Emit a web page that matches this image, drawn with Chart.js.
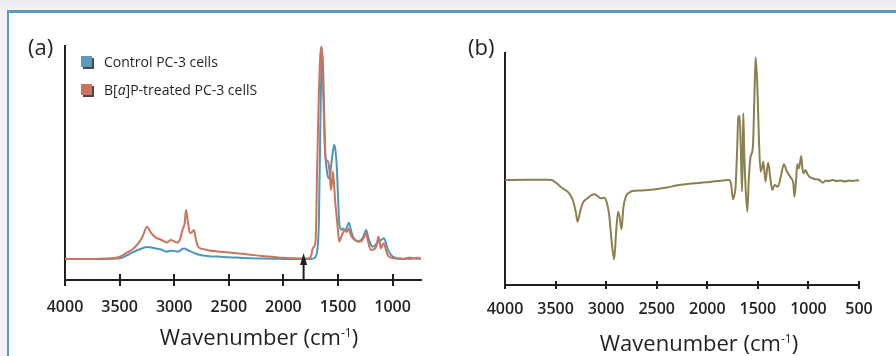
<!DOCTYPE html>
<html>
<head>
<meta charset="utf-8">
<script src="https://cdn.jsdelivr.net/npm/chart.js@4/dist/chart.umd.min.js"></script>
<style>
  html, body { margin: 0; padding: 0; }
  body { width: 896px; height: 356px; overflow: hidden; position: relative;
         background: linear-gradient(#e9eaed, #f3f3f5 10px); font-family: 'Open Sans', sans-serif; color: #231f20; }
  #frame { position: absolute; left: 7px; top: 10px; width: 1000px; height: 400px; background: #fff;
           border-top: 3px solid #5b9cbc; border-left: 2px solid #5b9cbc; }
  canvas { position: absolute; top: 0; }
  .lbl { position: absolute; font-size: 22px; line-height: 24px; font-weight: 400; }
  .leg { position: absolute; font-size: 14px; line-height: 16px; white-space: nowrap; }
  .sw { position: absolute; width: 11px; height: 11px; box-shadow: 2px 2px 0 #4a4a4a; }
  .ttl { position: absolute; width: 320px; text-align: center; font-size: 22px; line-height: 22px; font-weight: 500; white-space: nowrap; }
  .ttl sup { font-size: 12px; vertical-align: 8px; line-height: 0; }
</style>
</head>
<body>
<div id="frame"></div>
<canvas id="ca" width="440" height="340" style="left:0px"></canvas>
<canvas id="cb" width="446" height="340" style="left:450px"></canvas>

<div class="lbl" style="left:28px; top:34px">(a)</div>
<div class="lbl" style="left:468px; top:34px">(b)</div>

<div class="sw" style="left:81px; top:56px; background:#5b9cbd"></div>
<div class="leg" style="left:104px; top:54px">Control PC-3 cells</div>
<div class="sw" style="left:81px; top:84px; background:#cc735d"></div>
<div class="leg" style="left:104px; top:82px">B[<i>a</i>]P-treated PC-3 cellS</div>

<div class="ttl" style="left:99px; top:325px">Wavenumber (cm<sup>-1</sup>)</div>
<div class="ttl" style="left:539px; top:331px">Wavenumber (cm<sup>-1</sup>)</div>

<script>
// ---- Panel (a): IR spectra (arbitrary absorbance units) ----
const wnA = [4000, 3800, 3600, 3530, 3480, 3430, 3390, 3340, 3290, 3250, 3210, 3170, 3120, 3065, 3035, 3000, 2975, 2945, 2925, 2905, 2892, 2875, 2855, 2835, 2820, 2800, 2780, 2740, 2680, 2600, 2500, 2400, 2300, 2200, 2100, 2000, 1900, 1800, 1765, 1745, 1735, 1720, 1705, 1690, 1675, 1662, 1652, 1645, 1635, 1625, 1616, 1600, 1587, 1575, 1565, 1555, 1547, 1535, 1525, 1512, 1500, 1488, 1470, 1452, 1437, 1420, 1408, 1400, 1385, 1363, 1340, 1318, 1300, 1280, 1260, 1243, 1225, 1198, 1184, 1160, 1145, 1130, 1118, 1108, 1095, 1080, 1065, 1050, 1034, 1010, 990, 960, 930, 900, 870, 840, 810, 780, 760, 740];
const controlA = [9.0, 9.0, 9.1, 9.2, 9.5, 10.6, 11.6, 12.7, 13.6, 14.1, 13.9, 13.5, 13.0, 12.1, 12.5, 12.4, 12.1, 12.6, 13.3, 13.5, 13.2, 12.8, 12.3, 11.9, 11.6, 11.2, 10.9, 10.5, 10.2, 10.0, 9.7, 9.5, 9.3, 9.2, 9.1, 9.0, 9.0, 9.0, 9.0, 9.0, 9.1, 9.3, 10.0, 12.5, 25, 65, 93, 98.5, 88, 68, 54, 46, 43.5, 44, 48, 52, 55, 57.7, 56, 49, 36, 24, 21.5, 22, 21, 22.5, 24, 24.5, 22, 18.5, 17, 16.4, 16.8, 17.5, 19.5, 21.4, 18.5, 15, 14.2, 14.8, 15.8, 16.5, 16.8, 17, 17.5, 17.8, 16.5, 14, 12, 10.5, 9.8, 9.3, 9.1, 9.0, 9.2, 9.0, 9.3, 9.1, 9.2, 9.0];
const treatedA = [9.0, 9.0, 9.2, 9.5, 10.3, 11.8, 12.8, 15.0, 18.5, 22.8, 20.0, 18.2, 17.2, 16.0, 17.1, 16.5, 16.0, 17.5, 21.4, 24, 29.9, 25, 20, 20.5, 21.4, 17, 14.2, 13.3, 12.6, 12.2, 11.8, 11.3, 10.8, 10.3, 9.9, 9.5, 9.3, 9.2, 9.3, 10.5, 13, 14.2, 17, 50, 80, 96, 99.7, 96, 80, 62, 52.7, 51, 49.9, 45, 38.5, 42, 46.3, 40, 33, 27, 21, 16.4, 18.5, 20.5, 21.4, 20.5, 22, 21.5, 19.5, 17.8, 17, 16.5, 16.4, 16.8, 18.5, 20, 16.5, 12.8, 13, 13.5, 15, 18.5, 16, 13.5, 14.8, 15.7, 13.5, 11.2, 10, 9.5, 9.3, 9.1, 9.2, 9.0, 9.3, 9.6, 9.2, 9.5, 9.3, 9.2];
const xTicksA = [4000, 3500, 3000, 2500, 2000, 1500, 1000];
const arrowWn = 1815;

// ---- Panel (b): difference spectrum ----
const wnB = [4000, 3800, 3600, 3540, 3500, 3430, 3365, 3330, 3300, 3283, 3260, 3233, 3184, 3150, 3118, 3085, 3052, 3020, 2995, 2970, 2945, 2921, 2900, 2882, 2865, 2848, 2830, 2806, 2770, 2740, 2650, 2510, 2400, 2280, 2150, 2016, 1900, 1786, 1765, 1746, 1730, 1720, 1705, 1693, 1680, 1668, 1657, 1650, 1644, 1635, 1620, 1604, 1590, 1572, 1549, 1535, 1522, 1505, 1489, 1473, 1460, 1446, 1424, 1410, 1397, 1375, 1357, 1335, 1302, 1270, 1243, 1215, 1171, 1150, 1138, 1122, 1110, 1094, 1071, 1060, 1048, 1028, 1010, 989, 940, 890, 858, 830, 800, 760, 720, 680, 640, 600, 560, 520, 500];
const diffB = [0, 0.3, 0.2, 0, -2.5, -8.3, -13.3, -20, -32, -41.7, -33, -23.3, -18.3, -15.5, -14.3, -16, -18.3, -17.7, -22, -35, -62, -79.3, -50, -31.7, -38, -49.3, -28, -16.7, -12.5, -11, -10.5, -9.3, -7.5, -5, -3.5, -2.3, -1, 0, -4, -19.3, -14, -6.7, 30, 63.3, 64, 30, -11.7, 20, 66.7, 30, -10, -31.7, 0, 23.3, 33.3, 80, 122.7, 93.3, 40, 8.3, 12, 18.3, -1.7, 10, 17.3, 0, -10, -5, -6.7, 5, 15.7, 9, 1.7, -3, -16.7, 0, 16, 11.7, 24, 12, 6.7, 10, 6, 3.3, 1, 0, -2.7, -0.5, -1, 0, -1, -0.5, -1.5, -0.5, -1, -0.3, -0.7];
const xTicksB = [4000, 3500, 3000, 2500, 2000, 1500, 1000, 500];

const INK = '#231f20';
const pts = (xs, ys) => xs.map((x, i) => ({ x: x, y: ys[i] }));

function crossTicks(up) {
  return {
    id: 'crossTicks',
    afterDraw(chart) {
      const s = chart.scales.x, ctx = chart.ctx, b = chart.chartArea.bottom;
      ctx.save();
      ctx.strokeStyle = INK; ctx.lineWidth = 2;
      s.ticks.forEach(t => {
        const px = Math.round(s.getPixelForValue(t.value));
        ctx.beginPath(); ctx.moveTo(px, b - up); ctx.lineTo(px, b); ctx.stroke();
      });
      ctx.restore();
    }
  };
}

const arrowPlugin = {
  id: 'arrow',
  afterDraw(chart) {
    const s = chart.scales.x, y = chart.scales.y, ctx = chart.ctx;
    const px = s.getPixelForValue(arrowWn);
    const tip = y.getPixelForValue(11.5), base = y.getPixelForValue(6.4), bot = y.getPixelForValue(0);
    ctx.save();
    ctx.fillStyle = INK; ctx.strokeStyle = INK; ctx.lineWidth = 2;
    ctx.beginPath(); ctx.moveTo(px, base); ctx.lineTo(px, bot); ctx.stroke();
    ctx.beginPath(); ctx.moveTo(px, tip); ctx.lineTo(px - 3.5, base); ctx.lineTo(px + 3.5, base); ctx.closePath(); ctx.fill();
    ctx.restore();
  }
};

function xScale(min, max, tickVals, tickLen, pad) {
  return {
    type: 'linear', reverse: true, min: min, max: max,
    afterBuildTicks: (sc) => { sc.ticks = tickVals.map(v => ({ value: v })); },
    ticks: { color: INK, font: { family: 'Open Sans', size: 16, weight: 600 }, padding: pad, maxRotation: 0, autoSkip: false,
             callback: (v) => String(v) },
    grid: { display: true, drawOnChartArea: false, drawTicks: true, tickLength: tickLen, color: INK, lineWidth: 2 },
    border: { display: true, color: INK, width: 2 }
  };
}
function yScale(min, max) {
  return {
    type: 'linear', min: min, max: max,
    ticks: { display: false },
    grid: { display: false, drawTicks: false },
    border: { display: true, color: INK, width: 2 }
  };
}
const common = {
  responsive: false, animation: false, devicePixelRatio: 1,
  plugins: { legend: { display: false }, tooltip: { enabled: false } },
  elements: { point: { radius: 0 }, line: { borderWidth: 2, cubicInterpolationMode: 'monotone' } }
};

const chartA = new Chart(document.getElementById('ca'), {
  type: 'line',
  data: { datasets: [
    { label: 'B[a]P-treated PC-3 cellS', data: pts(wnA, treatedA), borderColor: '#cc735b', order: 0 },
    { label: 'Control PC-3 cells', data: pts(wnA, controlA), borderColor: '#4f97b8', order: 1 }
  ] },
  options: Object.assign({}, common, {
    layout: { padding: { left: 65, top: 46, right: 19, bottom: 10.8 } },
    scales: { x: xScale(740, 4000, xTicksA, 6, 12), y: yScale(0, 100) }
  }),
  plugins: [crossTicks(6), arrowPlugin]
});

const chartB = new Chart(document.getElementById('cb'), {
  type: 'line',
  data: { datasets: [
    { label: 'Difference', data: pts(wnB, diffB), borderColor: '#8c8050' }
  ] },
  options: Object.assign({}, common, {
    layout: { padding: { left: 55, top: 53, right: 37, bottom: 9.8 } },
    scales: { x: xScale(500, 4000, xTicksB, 4, 11), y: yScale(-105, 127) }
  }),
  plugins: [crossTicks(4)]
});
</script>
</body>
</html>
